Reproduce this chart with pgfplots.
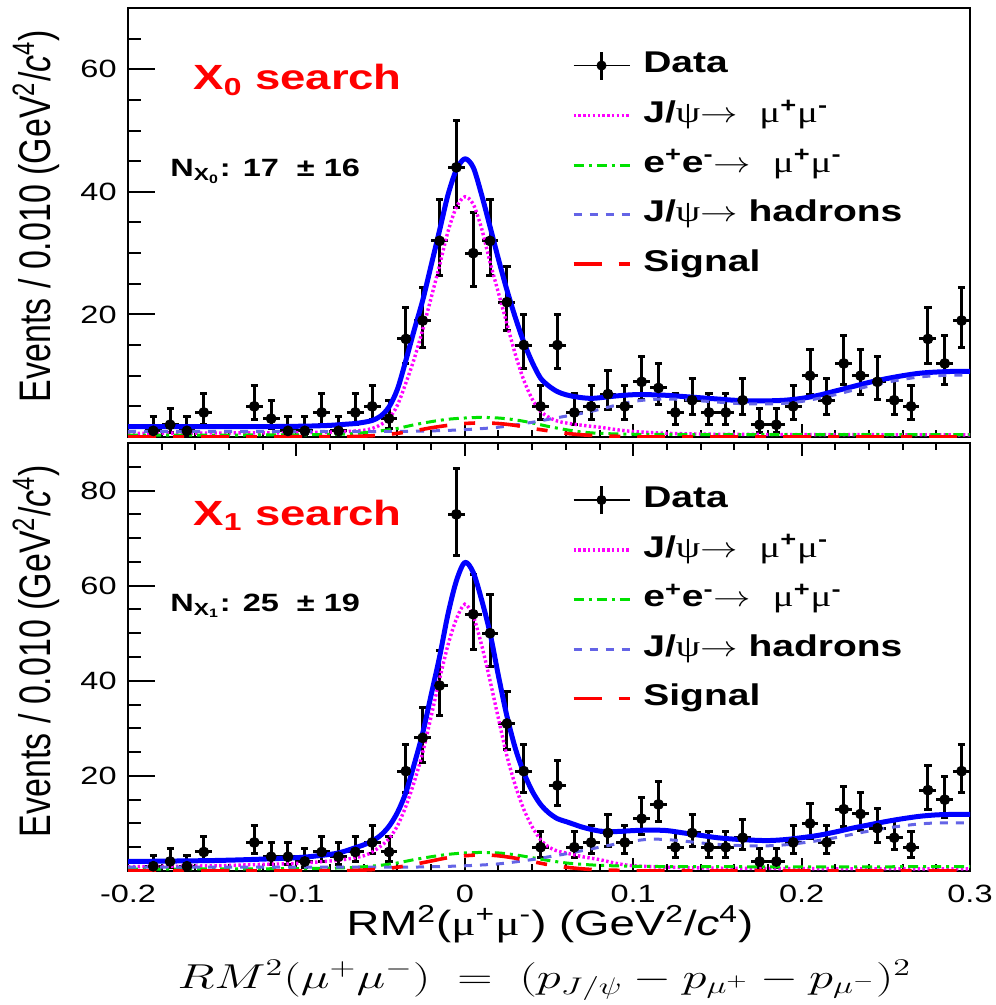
\documentclass[border=0pt]{standalone}
\usepackage{fontspec}
\setmainfont{Liberation Sans}[FakeStretch=1.3]
\newfontfamily\grk{Liberation Serif}[FakeStretch=1.3]
\newfontfamily\plainsans{Liberation Sans}
\usepackage{graphicx}
\usepackage{pgfplots}
\usepackage{pgfplotstable}
\pgfplotsset{compat=1.18}

\definecolor{cmag}{RGB}{255,0,255}
\definecolor{cgreen}{RGB}{0,225,0}
\definecolor{chad}{RGB}{100,100,230}
\definecolor{cblue}{RGB}{0,0,255}
\definecolor{cred}{RGB}{255,0,0}

\tikzset{
 tot/.style={cblue, line width=2.5pt, line join=round},
 jps/.style={cmag, line width=1.7pt, dash pattern=on 1.2pt off 1.2pt},
 eem/.style={cgreen, line width=1.5pt, dash pattern=on 5pt off 2.5pt on 1.5pt off 2.5pt},
 had/.style={chad, line width=1.5pt, dash pattern=on 4pt off 4pt},
 sig/.style={cred, line width=1.8pt, dash pattern=on 14pt off 8.5pt on 5.5pt off 8.5pt},
}

% ---------------- top panel data (X0 search) ----------------
\pgfplotstableread{
x y em ep
-0.185 1 0.83 2.30
-0.175 2 1.29 2.64
-0.165 1 0.83 2.30
-0.155 4 1.91 3.16
-0.125 5 2.16 3.38
-0.115 3 1.63 2.92
-0.105 1 0.83 2.30
-0.095 1 0.83 2.30
-0.085 4 1.91 3.16
-0.075 1 0.83 2.30
-0.065 4 1.91 3.16
-0.055 5 2.16 3.38
-0.045 3 1.63 2.92
-0.035 16 3.95 5.08
-0.025 19 4.32 5.45
-0.015 32 5.62 6.73
-0.005 44 6.62 7.72
0.005 30 5.45 6.56
0.015 32 5.62 6.73
0.025 22 4.66 5.79
0.035 15 3.83 4.96
0.045 5 2.16 3.38
0.055 15 3.83 4.96
0.065 4 1.91 3.16
0.075 5 2.16 3.38
0.085 7 2.58 3.77
0.095 5 2.16 3.38
0.105 9 2.94 4.11
0.115 8 2.77 3.95
0.125 4 1.91 3.16
0.135 6 2.38 3.58
0.145 4 1.91 3.16
0.155 4 1.91 3.16
0.165 6 2.38 3.58
0.175 2 1.29 2.64
0.185 2 1.29 2.64
0.195 5 2.16 3.38
0.205 10 3.11 4.27
0.215 6 2.38 3.58
0.225 12 3.41 4.56
0.235 10 3.11 4.27
0.245 9 2.94 4.11
0.255 6 2.38 3.58
0.265 5 2.16 3.38
0.275 16 3.95 5.08
0.285 12 3.41 4.56
0.295 19 4.32 5.45
}\dataA

\pgfplotstableread{
x y
-0.200 1.7
-0.150 1.7
-0.120 1.7
-0.100 1.75
-0.090 1.8
-0.080 1.9
-0.070 2.1
-0.065 2.2
-0.060 2.4
-0.055 2.7
-0.050 3.4
-0.045 4.9
-0.040 7.8
-0.035 12.5
-0.030 17.5
-0.025 22.3
-0.020 28.0
-0.015 33.7
-0.010 39.5
-0.005 43.6
0.000 45.4
0.005 44.0
0.010 39.5
0.015 34.3
0.020 29.0
0.025 24.0
0.030 19.5
0.035 15.5
0.040 12.2
0.045 9.6
0.050 8.3
0.055 7.4
0.060 6.9
0.065 6.6
0.070 6.4
0.075 6.3
0.080 6.4
0.090 6.7
0.100 6.9
0.110 6.9
0.120 6.8
0.130 6.6
0.140 6.4
0.150 6.2
0.160 6.0
0.170 5.9
0.180 5.9
0.190 6.0
0.200 6.3
0.210 6.8
0.220 7.5
0.230 8.2
0.240 8.9
0.250 9.5
0.260 10.0
0.270 10.4
0.280 10.6
0.290 10.7
0.300 10.7
}\totA

\pgfplotstableread{
x y
-0.200 0.6
-0.150 0.65
-0.100 0.7
-0.080 0.8
-0.070 0.9
-0.060 1.1
-0.055 1.4
-0.050 2.0
-0.045 3.0
-0.040 5.2
-0.035 8.8
-0.030 12.8
-0.025 17.5
-0.020 22.7
-0.015 28.0
-0.010 33.5
-0.005 37.5
0.000 39.2
0.005 38.0
0.010 34.0
0.015 28.5
0.020 23.5
0.025 18.5
0.030 13.5
0.035 9.3
0.040 6.2
0.045 4.2
0.050 3.2
0.055 2.6
0.060 2.3
0.070 1.9
0.080 1.6
0.090 1.2
0.100 0.9
0.120 0.6
0.150 0.45
0.200 0.4
0.300 0.35
}\jpsA

\pgfplotstableread{
x y
-0.200 0.3
-0.100 0.35
-0.070 0.5
-0.060 0.7
-0.050 1.0
-0.040 1.4
-0.030 2.0
-0.020 2.5
-0.010 2.9
0.000 3.1
0.010 3.2
0.020 3.1
0.030 2.8
0.040 2.3
0.050 1.7
0.060 1.2
0.070 0.8
0.080 0.6
0.100 0.45
0.150 0.4
0.300 0.4
}\eeA

\pgfplotstableread{
x y
-0.200 0.9
-0.100 0.9
-0.050 0.9
-0.020 1.0
0.000 1.2
0.020 1.6
0.040 2.4
0.050 2.9
0.060 3.4
0.070 3.9
0.080 4.5
0.090 5.2
0.100 5.8
0.110 6.1
0.120 6.2
0.130 6.1
0.140 5.9
0.150 5.7
0.160 5.5
0.170 5.4
0.180 5.4
0.190 5.5
0.200 5.8
0.210 6.3
0.220 6.9
0.230 7.6
0.240 8.3
0.250 8.9
0.260 9.4
0.270 9.8
0.280 10.0
0.290 10.1
0.300 10.1
}\hadA

\pgfplotstableread{
x y
-0.200 0.0
-0.080 0.05
-0.060 0.15
-0.050 0.3
-0.040 0.6
-0.030 1.0
-0.020 1.5
-0.010 1.9
0.000 2.2
0.010 2.3
0.020 2.2
0.030 1.9
0.040 1.4
0.050 1.0
0.060 0.6
0.070 0.35
0.080 0.2
0.100 0.05
0.120 0.0
0.300 0.0
}\sigA

% ---------------- bottom panel data (X1 search) ----------------
\pgfplotstableread{
x y em ep
-0.185 1 0.83 2.30
-0.175 2 1.29 2.64
-0.165 1 0.83 2.30
-0.155 4 1.91 3.16
-0.125 6 2.38 3.58
-0.115 3 1.63 2.92
-0.105 3 1.63 2.92
-0.095 2 1.29 2.64
-0.085 4 1.91 3.16
-0.075 3 1.63 2.92
-0.065 4 1.91 3.16
-0.055 6 2.38 3.58
-0.045 4 1.91 3.16
-0.035 21 4.55 5.67
-0.025 28 5.27 6.38
-0.015 39 6.22 7.33
-0.005 75 8.64 9.73
0.005 54 7.34 8.44
0.015 50 7.06 8.16
0.025 31 5.54 6.65
0.035 21 4.55 5.67
0.045 5 2.16 3.38
0.055 18 4.20 5.32
0.065 5 2.16 3.38
0.075 6 2.38 3.58
0.085 8 2.77 3.95
0.095 6 2.38 3.58
0.105 11 3.26 4.42
0.115 14 3.69 4.83
0.125 5 2.16 3.38
0.135 8 2.77 3.95
0.145 5 2.16 3.38
0.155 5 2.16 3.38
0.165 7 2.58 3.77
0.175 2 1.29 2.64
0.185 2 1.29 2.64
0.195 6 2.38 3.58
0.205 10 3.11 4.27
0.215 6 2.38 3.58
0.225 13 3.56 4.70
0.235 12 3.41 4.56
0.245 9 2.94 4.11
0.255 7 2.58 3.77
0.265 5 2.16 3.38
0.275 17 4.08 5.20
0.285 15 3.83 4.96
0.295 21 4.55 5.67
}\dataB

\pgfplotstableread{
x y
-0.200 2.0
-0.150 2.2
-0.120 2.5
-0.100 2.8
-0.090 3.1
-0.080 3.5
-0.075 3.8
-0.070 4.3
-0.065 4.9
-0.060 5.5
-0.055 6.3
-0.050 7.5
-0.045 9.4
-0.040 12.3
-0.035 16.5
-0.030 22.5
-0.025 29.0
-0.020 37.0
-0.015 45.0
-0.010 54.0
-0.005 61.0
0.000 64.9
0.005 62.8
0.010 57.0
0.015 50.0
0.020 41.0
0.025 32.6
0.030 25.8
0.035 20.7
0.040 16.8
0.045 14.0
0.050 12.2
0.055 11.0
0.060 10.4
0.065 9.8
0.070 9.2
0.080 8.4
0.090 8.3
0.100 8.5
0.110 8.6
0.120 8.5
0.130 8.0
0.140 7.5
0.150 7.0
0.160 6.7
0.170 6.5
0.180 6.4
0.190 6.6
0.200 7.0
0.210 7.5
0.220 8.2
0.230 9.0
0.240 9.7
0.250 10.4
0.260 11.0
0.270 11.5
0.280 11.8
0.290 11.9
0.300 11.9
}\totB

\pgfplotstableread{
x y
-0.200 0.9
-0.150 1.1
-0.120 1.4
-0.100 1.6
-0.080 2.1
-0.070 2.5
-0.060 3.2
-0.055 4.0
-0.050 5.2
-0.045 6.8
-0.040 9.5
-0.035 13.6
-0.030 18.8
-0.025 24.9
-0.020 32.5
-0.015 40.3
-0.010 47.5
-0.005 53.0
0.000 56.1
0.005 53.6
0.010 47.5
0.015 40.0
0.020 32.0
0.025 24.2
0.030 18.0
0.035 13.0
0.040 9.3
0.045 6.6
0.050 5.0
0.055 4.2
0.060 3.8
0.070 3.0
0.080 2.4
0.090 1.6
0.100 1.1
0.120 0.8
0.150 0.6
0.200 0.5
0.300 0.45
}\jpsB

\pgfplotstableread{
x y
-0.200 0.4
-0.100 0.5
-0.070 0.7
-0.060 0.9
-0.050 1.2
-0.040 1.7
-0.030 2.4
-0.020 3.0
-0.010 3.5
0.000 3.8
0.010 3.9
0.020 3.8
0.030 3.4
0.040 2.8
0.050 2.2
0.060 1.7
0.070 1.4
0.080 1.2
0.100 1.0
0.150 0.9
0.300 0.9
}\eeB

\pgfplotstableread{
x y
-0.200 0.8
-0.050 0.8
-0.020 0.9
0.000 1.1
0.020 1.5
0.040 2.4
0.050 3.0
0.060 3.6
0.070 4.3
0.080 5.0
0.090 5.7
0.100 6.3
0.110 6.7
0.120 6.6
0.130 6.3
0.140 5.9
0.150 5.6
0.160 5.4
0.170 5.3
0.180 5.3
0.190 5.5
0.200 5.9
0.210 6.4
0.220 7.0
0.230 7.7
0.240 8.4
0.250 9.0
0.260 9.5
0.270 9.9
0.280 10.1
0.290 10.1
0.300 10.1
}\hadB

\pgfplotstableread{
x y
-0.200 0.0
-0.080 0.05
-0.060 0.2
-0.050 0.4
-0.040 0.8
-0.030 1.4
-0.020 2.1
-0.010 2.8
0.000 3.2
0.010 3.4
0.020 3.2
0.030 2.7
0.040 2.0
0.050 1.3
0.060 0.8
0.070 0.45
0.080 0.25
0.100 0.08
0.120 0.0
0.300 0.0
}\sigB

\pgfplotsset{
 panel/.style={
  scale only axis, width=421pt,
  xmin=-0.2, xmax=0.3, ymin=0,
  axis line style={line width=1.25pt},
  every tick/.style={black, line width=1pt},
  tick align=inside,
  major tick length=13.5pt, minor tick length=6.5pt,
  every major x tick/.append style={/pgfplots/major tick length=6.5pt},
  every minor x tick/.append style={/pgfplots/minor tick length=3.5pt},
  xtick={-0.2,-0.1,0,0.1,0.2,0.3},
  minor xtick={-0.18,-0.16,-0.14,-0.12,-0.08,-0.06,-0.04,-0.02,0.02,0.04,0.06,0.08,0.12,0.14,0.16,0.18,0.22,0.24,0.26,0.28},
  ytick pos=left,
  ticklabel style={font=\fontsize{12.5pt}{12.5pt}\selectfont},
  yticklabel style={inner sep=0pt, xshift=-5.5pt},
  xticklabel style={inner sep=0pt, yshift=-7pt},
  legend cell align=left,
  legend style={draw=none, fill=none, anchor=north west, inner sep=0pt, outer sep=0pt,
    row sep=9.75pt, column sep=6pt,
    font=\fontsize{15pt}{15pt}\selectfont\bfseries,
    nodes={inner sep=0pt, text height=11pt, text depth=4pt}},
 },
 datalegend/.style={legend image code/.code={
   \draw[black, line width=0.8pt] (0pt,0pt) -- (28pt,0pt);
   \draw[black, line width=1.5pt] (14pt,-7pt) -- (14pt,7pt);
   \fill[black] (14pt,0pt) circle (2.3pt);}},
 linelegend/.style={legend image code/.code={\draw[##1] (0pt,0pt) -- (28pt,0pt);}},
}

\newcommand{\legentries}{%
 \addlegendimage{datalegend}
 \addlegendentry{Data}
 \addlegendimage{linelegend, jps}
 \addlegendentry{J/{\grk\mdseries ψ}\scalebox{1.3}[1]{$\rightarrow$}\ \ {\grk\mdseries μ}\textsuperscript{+}{\grk\mdseries μ}\textsuperscript{-}}
 \addlegendimage{linelegend, eem}
 \addlegendentry{e\textsuperscript{+}e\textsuperscript{-}\scalebox{1.3}[1]{$\rightarrow$}\ \ {\grk\mdseries μ}\textsuperscript{+}{\grk\mdseries μ}\textsuperscript{-}}
 \addlegendimage{linelegend, had}
 \addlegendentry{J/{\grk\mdseries ψ}\scalebox{1.3}[1]{$\rightarrow$} hadrons}
 \addlegendimage{linelegend, sig}
 \addlegendentry{Signal}
}

\newcommand{\drawpanel}[6]{%
 \addplot[black, no marks, draw=none, forget plot,
   error bars/.cd, x dir=both, x fixed=0.005, error mark=none,
   error bar style={black, line width=1.5pt}] table[x=x,y=y] {#1};
 \addplot[black, only marks, mark=*, mark size=2.5pt, forget plot,
   error bars/.cd, y dir=both, y explicit, error mark=-,
   error mark options={rotate=90, black, mark size=1.8pt, line width=1.5pt},
   error bar style={black, line width=1.5pt}] table[x=x,y=y,y error plus=ep,y error minus=em] {#1};
 \addplot[tot, smooth, no marks, forget plot] table[x=x,y=y] {#2};
 \addplot[jps, smooth, no marks, forget plot] table[x=x,y=y] {#3};
 \addplot[eem, smooth, no marks, forget plot] table[x=x,y=y] {#4};
 \addplot[had, smooth, no marks, forget plot] table[x=x,y=y] {#5};
 \addplot[sig, smooth, no marks, forget plot] table[x=x,y=y] {#6};
}

\begin{document}
\begin{tikzpicture}
\path[use as bounding box] (0pt,0pt) rectangle (497.5pt,-502.5pt);

\begin{axis}[panel, at={(64pt,-4pt)}, anchor=north west, height=214.5pt,
  ymax=70, ytick={0,20,40,60}, yticklabels={,20,40,60},
  minor ytick={5,10,15,25,30,35,45,50,55,65},
  xtick pos=left, xticklabels={},
  legend style={at={(0.527,0.902)}}]
 \legentries
 \drawpanel{\dataA}{\totA}{\jpsA}{\eeA}{\hadA}{\sigA}
\end{axis}

\begin{axis}[panel, at={(64pt,-221.5pt)}, anchor=north west, height=214pt,
  ymax=90, ytick={0,20,40,60,80}, yticklabels={,20,40,60,80},
  minor ytick={5,10,15,25,30,35,45,50,55,65,70,75,85},
  xtick pos=both, xticklabel pos=left,
  xticklabels={-0.2,-0.1,0,0.1,0.2,0.3},
  legend style={at={(0.527,0.903)}}]
 \legentries
 \drawpanel{\dataB}{\totB}{\jpsB}{\eeB}{\hadB}{\sigB}
\end{axis}

% panel annotations
\node[anchor=base west, text=cred, inner sep=0pt] at (96.5pt,-45pt)
  {\fontsize{17.5pt}{17.5pt}\selectfont\bfseries X\textsubscript{0} search};
\node[anchor=base west, inner sep=0pt] at (85pt,-88.5pt)
  {\fontsize{12.5pt}{12.5pt}\selectfont\bfseries N\textsubscript{X\textsubscript{0}}: 17 \ ± 16};
\node[anchor=base west, text=cred, inner sep=0pt] at (96.5pt,-262.5pt)
  {\fontsize{17.5pt}{17.5pt}\selectfont\bfseries X\textsubscript{1} search};
\node[anchor=base west, inner sep=0pt] at (85pt,-305.8pt)
  {\fontsize{12.5pt}{12.5pt}\selectfont\bfseries N\textsubscript{X\textsubscript{1}}: 25 \ ± 19};

% axis titles
\node[rotate=90, inner sep=0pt] at (18pt,-108pt)
  {\scalebox{1}[1.3]{\plainsans\fontsize{17pt}{17pt}\selectfont Events / 0.010 (GeV\textsuperscript{2}/\textit{c}\textsuperscript{4})}};
\node[rotate=90, inner sep=0pt] at (18pt,-325.5pt)
  {\scalebox{1}[1.3]{\plainsans\fontsize{17pt}{17pt}\selectfont Events / 0.010 (GeV\textsuperscript{2}/\textit{c}\textsuperscript{4})}};
\node[anchor=base, inner sep=0pt] at (275pt,-467.5pt)
  {\fontsize{17.5pt}{17.5pt}\selectfont RM\textsuperscript{2}({\grk μ}\textsuperscript{+}{\grk μ}\textsuperscript{-}) (GeV\textsuperscript{2}/\textit{c}\textsuperscript{4})};
\node[anchor=base, inner sep=0pt] at (272.25pt,-494pt)
  {\scalebox{1.41}[1]{\fontsize{18pt}{18pt}\selectfont$RM^2(\mu^+\mu^-)\;=\;(p_{J/\psi}-p_{\mu^+}-p_{\mu^-})^2$}};
\end{tikzpicture}
\end{document}
